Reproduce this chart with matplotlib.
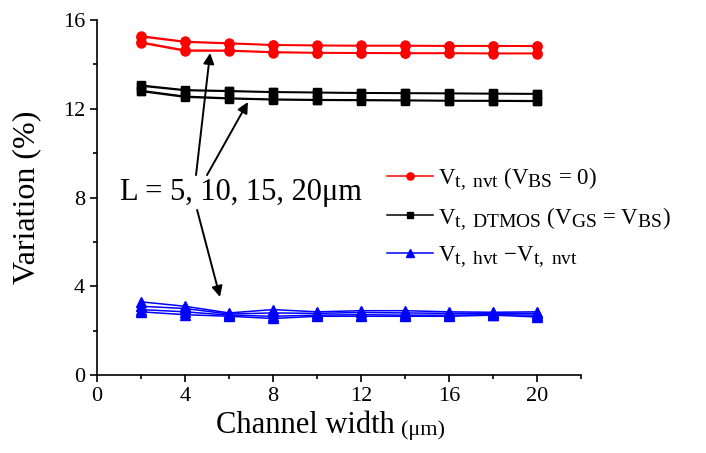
import matplotlib
matplotlib.use('Agg')
import matplotlib.pyplot as plt
import matplotlib._mathtext as mathtext_mod
from matplotlib.ticker import MultipleLocator

plt.rcParams['font.family'] = ['Liberation Serif', 'DejaVu Serif']
plt.rcParams['mathtext.fontset'] = 'custom'
plt.rcParams['mathtext.rm'] = 'Liberation Serif'
plt.rcParams['mathtext.it'] = 'Liberation Serif:italic'
# subscripts in the legend are almost full size in the original
mathtext_mod.SHRINK_FACTOR = 0.85

width = [2, 4, 6, 8, 10, 12, 14, 16, 18, 20]

# Vt,nvt variation, L = 5, 10, 15, 20 um
nvt_l5 = [15.28, 15.03, 14.96, 14.88, 14.86, 14.85, 14.85, 14.84, 14.84, 14.83]
nvt_l10 = [15.24, 15.00, 14.93, 14.86, 14.84, 14.83, 14.83, 14.82, 14.82, 14.81]
nvt_l15 = [15.00, 14.64, 14.63, 14.56, 14.53, 14.52, 14.51, 14.51, 14.50, 14.50]
nvt_l20 = [14.96, 14.60, 14.60, 14.53, 14.51, 14.50, 14.49, 14.49, 14.48, 14.48]

# Vt,DTMOS variation
dt_l5 = [13.06, 12.85, 12.81, 12.76, 12.74, 12.72, 12.71, 12.70, 12.69, 12.68]
dt_l10 = [13.02, 12.82, 12.78, 12.74, 12.72, 12.70, 12.69, 12.68, 12.67, 12.66]
dt_l15 = [12.82, 12.56, 12.48, 12.43, 12.41, 12.40, 12.39, 12.37, 12.37, 12.36]
dt_l20 = [12.78, 12.52, 12.45, 12.40, 12.38, 12.37, 12.36, 12.35, 12.34, 12.33]

# Vt,hvt - Vt,nvt variation
hv_l5 = [3.30, 3.10, 2.80, 2.95, 2.85, 2.90, 2.90, 2.85, 2.83, 2.85]
hv_l10 = [3.10, 3.00, 2.75, 2.80, 2.78, 2.82, 2.80, 2.78, 2.78, 2.78]
hv_l15 = [2.95, 2.85, 2.70, 2.65, 2.70, 2.72, 2.70, 2.70, 2.72, 2.70]
hv_l20 = [2.85, 2.72, 2.65, 2.55, 2.65, 2.65, 2.65, 2.65, 2.70, 2.62]

fig = plt.figure(figsize=(7.06, 4.53), dpi=100)
ax = fig.add_axes([0.1374, 0.172, 0.6856, 0.784])

red = '#ff0000'
blue = '#0000ff'
lw = 1.1

for i, ys in enumerate([nvt_l5, nvt_l10, nvt_l15, nvt_l20]):
    ax.plot(width, ys, color=red, marker='o', ms=6.5, lw=lw,
            label=r'V$_{\mathrm{t,\ nvt}}$ (V$_{\mathrm{BS}}$ = 0)' if i == 0 else None)
for i, ys in enumerate([dt_l5, dt_l10, dt_l15, dt_l20]):
    ax.plot(width, ys, color='k', marker='s', ms=6, lw=lw,
            label=r'V$_{\mathrm{t,\ DTMOS}}$ (V$_{\mathrm{GS}}$ = V$_{\mathrm{BS}}$)' if i == 0 else None)
for i, ys in enumerate([hv_l5, hv_l10, hv_l15, hv_l20]):
    ax.plot(width, ys, color=blue, marker='^', ms=7, lw=lw,
            label=r'V$_{\mathrm{t,\ hvt}}$ $-$V$_{\mathrm{t,\ nvt}}$' if i == 0 else None)

ax.set_xlim(0, 22)
ax.set_ylim(0, 16)
ax.xaxis.set_major_locator(MultipleLocator(4))
ax.xaxis.set_minor_locator(MultipleLocator(2))
ax.yaxis.set_major_locator(MultipleLocator(4))
ax.yaxis.set_minor_locator(MultipleLocator(2))
ax.spines['top'].set_visible(False)
ax.spines['right'].set_visible(False)
for s in ['left', 'bottom']:
    ax.spines[s].set_linewidth(1.2)
ax.tick_params(which='major', direction='out', length=5, width=1.2, labelsize=16)
ax.tick_params(which='minor', direction='out', length=3, width=1.2)

ax.set_ylabel('Variation (%)', fontsize=23)
ax.yaxis.set_label_coords(-0.115, 0.5)
ax.set_xlabel('Channel width', fontsize=22)
ax.xaxis.set_label_coords(0.43, -0.10)
ax.annotate('(\u03bcm)', xy=(1, 0), xycoords=ax.xaxis.label, xytext=(5, 0),
            textcoords='offset points', ha='left', va='bottom', fontsize=16)

ax.text(1.05, 7.89, 'L = 5, 10, 15, 20\u03bcm', fontsize=22, ha='left', va='baseline')

arrows = [((4.5, 9.01), (5.14, 14.51)),
          ((5.0, 9.01), (6.86, 12.30)),
          ((4.55, 7.44), (5.59, 3.52))]
for tail, tip in arrows:
    ax.annotate('', xy=tip, xytext=tail,
                arrowprops=dict(arrowstyle='-|>', color='k', lw=1.4,
                                mutation_scale=16, shrinkA=0, shrinkB=0))

leg = fig.legend(loc='upper left', bbox_to_anchor=(0.532, 0.66), frameon=False,
                 fontsize=16.5, handlelength=2.0, handletextpad=0.22,
                 labelspacing=0.55, borderpad=0, markerscale=0.8)

fig.savefig('out.png', dpi=100)
